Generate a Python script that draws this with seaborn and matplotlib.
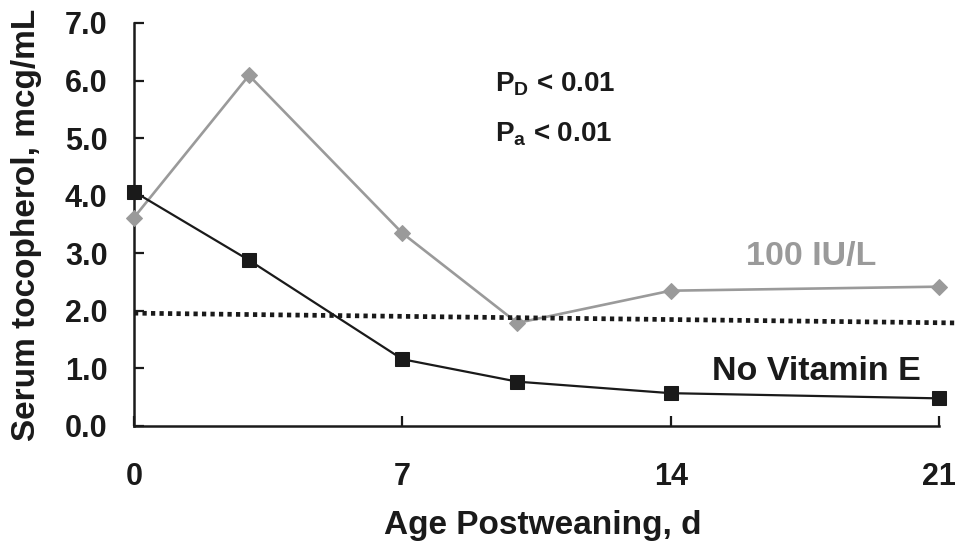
import matplotlib
matplotlib.use("Agg")
import matplotlib.pyplot as plt
import seaborn as sns
import pandas as pd

# Serum tocopherol by day after weaning
days = [0, 3, 7, 10, 14, 21]
vit_e_100 = [3.62, 6.09, 3.35, 1.79, 2.35, 2.42]
no_vit_e = [4.07, 2.88, 1.16, 0.77, 0.57, 0.48]

# Reference level (dotted line)
ref_days = [0, 21.45]
ref_level = [1.96, 1.79]

x_ticks = [0, 7, 14, 21]
y_ticks = [0, 1, 2, 3, 4, 5, 6, 7]

sns.set_theme(style="white")
plt.rcParams["font.family"] = ["Liberation Sans", "DejaVu Sans"]
plt.rcParams["font.weight"] = "bold"
plt.rcParams["mathtext.fontset"] = "custom"
plt.rcParams["mathtext.rm"] = "Liberation Sans:bold"
plt.rcParams["mathtext.it"] = "Liberation Sans:bold"
plt.rcParams["mathtext.bf"] = "Liberation Sans:bold"

GRAY = "#9a9a9a"
INK = "#1a1a1a"

df_a = pd.DataFrame({"day": days, "value": vit_e_100})
df_b = pd.DataFrame({"day": days, "value": no_vit_e})

fig = plt.figure(figsize=(9.57, 5.46), dpi=100)
ax = fig.add_axes([0.140, 0.2198, 0.8412, 0.7381])

sns.lineplot(data=df_a, x="day", y="value", ax=ax, color=GRAY, lw=1.9,
             marker="D", markersize=8.2, markeredgecolor=GRAY,
             markerfacecolor=GRAY, clip_on=False, zorder=3)
sns.lineplot(data=df_b, x="day", y="value", ax=ax, color=INK, lw=1.6,
             marker="s", markersize=10, markeredgecolor=INK,
             markerfacecolor=INK, clip_on=False, zorder=4)
ax.plot(ref_days, ref_level, color=INK, lw=3.4, linestyle=(0, (0.9, 0.9)),
        clip_on=False, zorder=5)

ax.set_xlim(0, 21)
ax.set_ylim(0, 7)
ax.set_xticks(x_ticks)
ax.set_xticklabels([str(t) for t in x_ticks])
ax.set_yticks(y_ticks)
ax.set_yticklabels([f"{t:.1f}" for t in y_ticks])

for side in ("top", "right"):
    ax.spines[side].set_visible(False)
for side in ("left", "bottom"):
    ax.spines[side].set_color(INK)
    ax.spines[side].set_linewidth(1.8)

ax.tick_params(axis="both", direction="in", length=7.5, width=1.6,
               color=INK, labelcolor=INK, labelsize=22,
               bottom=True, left=True)
ax.tick_params(axis="x", pad=26)
ax.tick_params(axis="y", pad=19)

ax.set_xlabel("Age Postweaning, d", fontsize=24, fontweight="bold", color=INK)
ax.set_ylabel("Serum tocopherol, mcg/mL", fontsize=24, fontweight="bold", color=INK)
ax.xaxis.set_label_coords(0.5083, -0.2457)
ax.xaxis.label.set_va("center")
ax.yaxis.set_label_coords(-0.1330, 0.5)
ax.yaxis.label.set_va("center")

ax.text(0.4484, 0.8288, r"$\mathrm{P_D}$ < 0.01", transform=ax.transAxes,
        ha="left", va="baseline", fontsize=20, fontweight="bold", color=INK)
ax.text(0.4484, 0.7047, r"$\mathrm{P_a}$ < 0.01", transform=ax.transAxes,
        ha="left", va="baseline", fontsize=20, fontweight="bold", color=INK)
ax.text(0.841, 0.3995, "100 IU/L", transform=ax.transAxes,
        ha="center", va="baseline", fontsize=24.5, fontweight="bold", color=GRAY)
ax.text(0.848, 0.114, "No Vitamin E", transform=ax.transAxes,
        ha="center", va="baseline", fontsize=24.5, fontweight="bold", color=INK)

fig.savefig("out.png", dpi=100)
